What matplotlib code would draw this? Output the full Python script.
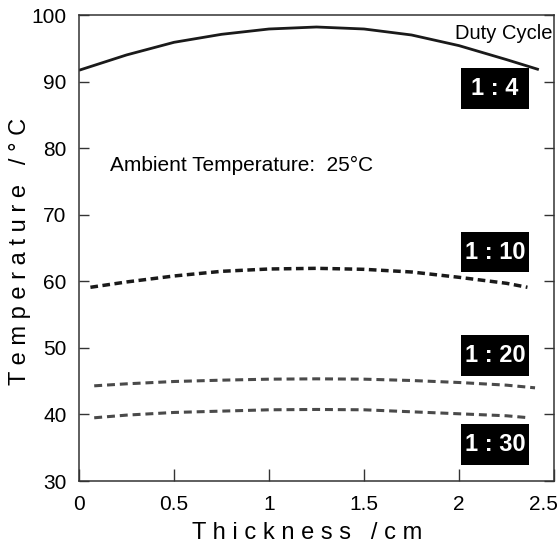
import matplotlib
matplotlib.use('Agg')
import matplotlib.pyplot as plt
import matplotlib.transforms as mtransforms
from matplotlib.patches import Rectangle

plt.rcParams['font.family'] = ['Liberation Sans', 'DejaVu Sans']

# temperature profiles across the slab for each duty cycle
x_14 = [0, 0.25, 0.5, 0.75, 1.0, 1.25, 1.5, 1.75, 2.0, 2.25, 2.42]
t_14 = [91.7, 94.0, 95.9, 97.1, 97.9, 98.2, 97.9, 97.0, 95.4, 93.3, 91.8]

x_110 = [0.06, 0.25, 0.5, 0.75, 1.0, 1.25, 1.5, 1.75, 2.0, 2.25, 2.36]
t_110 = [59.1, 59.9, 60.8, 61.5, 61.85, 61.95, 61.8, 61.4, 60.6, 59.7, 59.1]

x_120 = [0.08, 0.25, 0.5, 0.75, 1.0, 1.25, 1.5, 1.75, 2.0, 2.25, 2.4]
t_120 = [44.3, 44.6, 44.95, 45.15, 45.3, 45.35, 45.3, 45.1, 44.8, 44.4, 44.0]

x_130 = [0.08, 0.25, 0.5, 0.75, 1.0, 1.25, 1.5, 1.75, 2.0, 2.25, 2.37]
t_130 = [39.5, 39.9, 40.3, 40.5, 40.7, 40.75, 40.7, 40.4, 40.1, 39.8, 39.5]

duty_labels = ['1 : 4', '1 : 10', '1 : 20', '1 : 30']
label_temps = [89.0, 64.4, 48.9, 35.5]

xticks = [0, 0.5, 1, 1.5, 2, 2.5]
xtick_labels = ['0', '0.5', '1', '1.5', '2', '2.5']
yticks = [30, 40, 50, 60, 70, 80, 90, 100]

fig = plt.figure(figsize=(5.58, 5.46), dpi=100)
ax = fig.add_axes([0.1416, 0.119, 0.8513, 0.8535])

ax.plot(x_14, t_14, color='#1a1a1a', lw=2.0, solid_capstyle='butt')
ax.plot(x_110, t_110, color='#1a1a1a', lw=2.5, linestyle=(0, (2.2, 1.3)))
ax.plot(x_120, t_120, color='#4a4a4a', lw=2.2, linestyle=(0, (2.6, 1.6)))
ax.plot(x_130, t_130, color='#4a4a4a', lw=2.2, linestyle=(0, (2.6, 1.6)))

# black tags with the duty cycle ratio
box_w = 0.358
box_h = 6.1
box_x = 2.19
for lab, ty in zip(duty_labels, label_temps):
    ax.add_patch(Rectangle((box_x - box_w / 2, ty - box_h / 2), box_w, box_h,
                           facecolor='black', edgecolor='none', zorder=3))
    ax.text(box_x, ty, lab, color='white', fontsize=17, fontweight='bold',
            ha='center', va='center', zorder=4)

ax.text(2.49, 97.25, 'Duty Cycle', fontsize=14.5, ha='right', va='center')
ax.text(0.163, 77.4, 'Ambient Temperature:  25°C', fontsize=15, ha='left', va='center')

ax.set_xlim(0, 2.5)
ax.set_ylim(30, 100)
ax.set_xticks(xticks)
ax.set_xticklabels(xtick_labels)
ax.set_yticks(yticks)

ax.tick_params(axis='x', direction='in', length=8.6, width=1.0, labelsize=15, pad=10, color='#333333')
ax.tick_params(axis='y', direction='in', length=7.5, width=1.0, labelsize=15, pad=9,
               right=True, color='#333333')
for sp in ax.spines.values():
    sp.set_linewidth(1.1)
    sp.set_color('#333333')

# keep the last x label inside the figure
last = ax.get_xticklabels()[-1]
last.set_transform(last.get_transform() + mtransforms.ScaledTranslation(-0.11, 0, fig.dpi_scale_trans))

ax.set_xlabel('T h i c k n e s s   / c m', fontsize=17)
ax.set_ylabel('T e m p e r a t u r e   / ° C', fontsize=17)
ax.xaxis.set_label_coords(0.48, -0.088)
ax.yaxis.set_label_coords(-0.101, 0.493)

fig.savefig('out.png', dpi=100)
